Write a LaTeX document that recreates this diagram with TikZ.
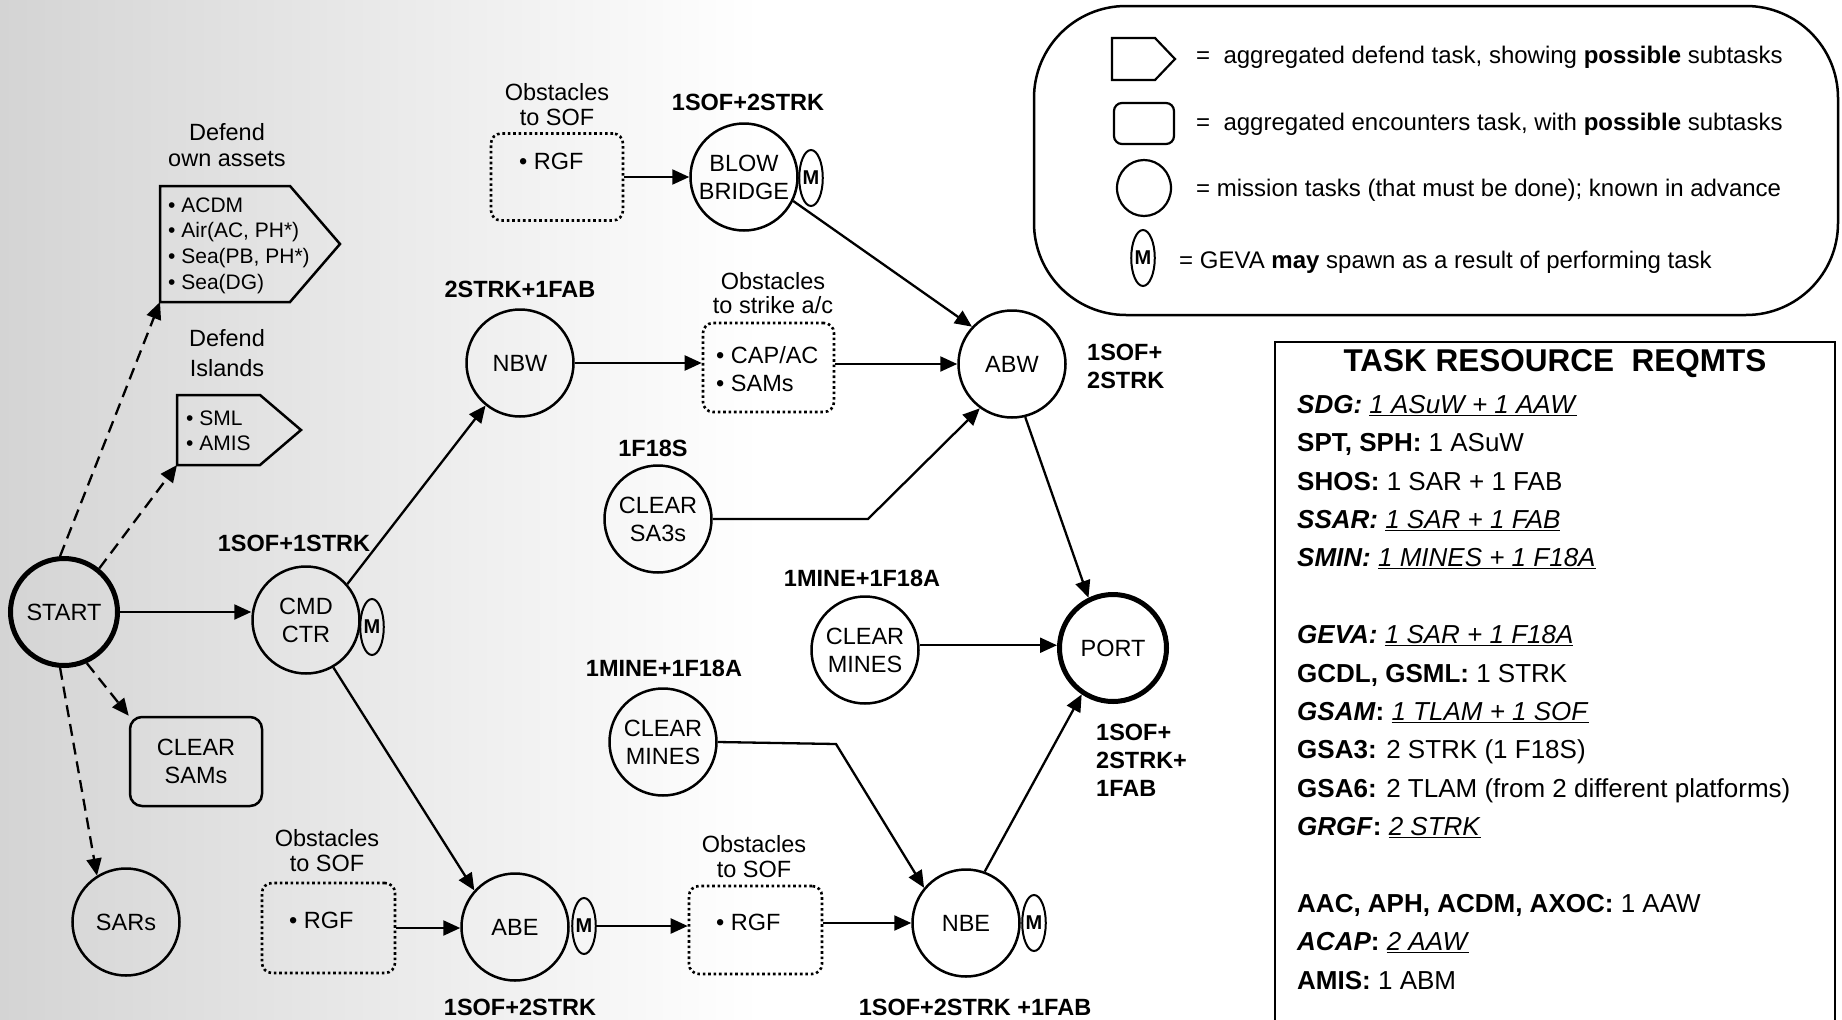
\documentclass[tikz,border=0pt]{standalone}
\usepackage{fontspec}
\setmainfont{Liberation Sans}
\usetikzlibrary{arrows.meta,shapes.geometric}
\definecolor{bggray}{RGB}{212,212,212}
\begin{document}
\begin{tikzpicture}[x=1pt,y=-1pt,
  every node/.style={inner sep=0pt},
  txt/.style={font=\fontsize{23.5}{28}\selectfont, align=center},
  small/.style={font=\fontsize{21}{25.7}\selectfont, align=left},
  res/.style={font=\fontsize{23.5}{28}\selectfont\bfseries, align=center},
  task/.style={circle, draw, line width=2.5pt, minimum size=107pt, txt},
  bigtask/.style={task, line width=5pt},
  mtag/.style={ellipse, draw, line width=2pt, minimum width=22pt, minimum height=56pt, font=\fontsize{20}{20}\selectfont\bfseries},
  obs/.style={draw, rounded corners=10pt, line width=2.6pt, dash pattern=on 2.6pt off 2.8pt},
  conn/.style={line width=2.3pt, -{Triangle[length=17pt,width=15pt]}},
  dconn/.style={conn, dash pattern=on 12pt off 7pt},
  leg/.style={font=\fontsize{24}{28}\selectfont},
  tab/.style={font=\fontsize{26}{38.4}\selectfont, align=left},
]
\path[use as bounding box] (0,0) rectangle (1842,1020);
\clip (0,0) rectangle (1842,1020);
\shade[left color=bggray, right color=white] (0,0) rectangle (760,1020);

% ---------- defend tasks ----------
\node[txt, font=\fontsize{23.5}{26}\selectfont] (hd1) at (227,145) {Defend\\own assets};
\draw[line width=2.5pt] (160,186) -- (290,186) -- (340,244) -- (290,302) -- (160,302) -- cycle;
\node[small, anchor=west] (d1) at (168,245.5) {\textbullet\ ACDM\\\textbullet\ Air(AC, PH*)\\\textbullet\ Sea(PB, PH*)\\\textbullet\ Sea(DG)};
\coordinate (d1c) at (160,302);

\node[txt, font=\fontsize{23.5}{30}\selectfont] (hd2) at (227,353) {Defend\\Islands};
\draw[line width=2.5pt] (177,395) -- (260,395) -- (301,430) -- (260,465) -- (177,465) -- cycle;
\node[small, font=\fontsize{21}{25}\selectfont, anchor=west] (d2) at (186,430.5) {\textbullet\ SML\\\textbullet\ AMIS};
\coordinate (d2c) at (177,465);

% ---------- mission tasks ----------
\node[bigtask] (start) at (64,612) {START};
\node[task] (cmd) at (306,620) {CMD\\CTR};
\node[mtag] (m1) at (372,627) {M};
\node[res] (rcmd) at (294,543) {1SOF+1STRK};
\node[draw, line width=2.5pt, rounded corners=12pt, minimum width=132pt, minimum height=89pt, txt] (sams) at (196,761.5) {CLEAR\\SAMs};
\node[task] (sars) at (126,922) {SARs};

\node[task] (nbw) at (520,363) {NBW};
\node[res] (rnbw) at (520,289) {2STRK+1FAB};
\node[task] (blow) at (744,177) {BLOW\\BRIDGE};
\node[mtag] (m2) at (811,178) {M};
\node[res] (rblow) at (748,102) {1SOF+2STRK};
\node[task] (abw) at (1012,364) {ABW};
\node[res, align=left, anchor=west] (rabw) at (1087,366) {1SOF+\\2STRK};
\node[res] (rsa3) at (653,448) {1F18S};
\node[task] (sa3) at (658,519) {CLEAR\\SA3s};
\node[res] (rcm1) at (862,578) {1MINE+1F18A};
\node[task] (cm1) at (865,650) {CLEAR\\MINES};
\node[bigtask] (port) at (1113,648) {PORT};
\node[res, align=left, anchor=west] (rport) at (1096,760) {1SOF+\\2STRK+\\1FAB};
\node[res] (rcm2) at (664,668) {1MINE+1F18A};
\node[task] (cm2) at (663,742) {CLEAR\\MINES};
\node[task] (abe) at (515,927) {ABE};
\node[mtag] (m3) at (584,926) {M};
\node[res] (rabe) at (520,1007) {1SOF+2STRK};
\node[task] (nbe) at (966,923) {NBE};
\node[mtag] (m4) at (1034,923) {M};
\node[res] (rnbe) at (975,1007) {1SOF+2STRK +1FAB};

% ---------- obstacles ----------
\node[txt, font=\fontsize{23.5}{25}\selectfont] (h1) at (557,105) {Obstacles\\to SOF};
\node[obs, minimum width=132pt, minimum height=87pt] (ob1) at (557,177) {};
\node[txt, anchor=west] (t1) at (519,161) {\textbullet\ RGF};

\node[txt, font=\fontsize{23.5}{24}\selectfont] (h2) at (773,293) {Obstacles\\to strike a/c};
\node[obs, minimum width=131pt, minimum height=89pt] (ob2) at (768.5,367.5) {};
\node[txt, align=left, anchor=west] (t2) at (716,369) {\textbullet\ CAP/AC\\\textbullet\ SAMs};

\node[txt, font=\fontsize{23.5}{25}\selectfont] (h3) at (327,851) {Obstacles\\to SOF};
\node[obs, minimum width=133pt, minimum height=90pt] (ob3) at (328.5,928) {};
\node[txt, anchor=west] (t3) at (289,920) {\textbullet\ RGF};

\node[txt, font=\fontsize{23.5}{25}\selectfont] (h4) at (754,857) {Obstacles\\to SOF};
\node[obs, minimum width=133pt, minimum height=88pt] (ob4) at (755.5,930) {};
\node[txt, anchor=west] (t4) at (716,922) {\textbullet\ RGF};

\coordinate (bendA) at (868,519);
\coordinate (bendB) at (836,744);

% ---------- connectors ----------
\draw[dconn] (start.94) -- (d1c);
\draw[dconn] (start.51) -- (d2c);
\draw[dconn] (start.-66) -- (sams.north west);
\draw[dconn] (start.-94) -- (sars.122);
\draw[conn] (start.east) -- (start.east -| cmd.west);
\draw[conn] (cmd.41) -- (nbw.-129);
\draw[conn] (cmd.-60) -- (abe.138);
\draw[conn] (ob3.east) -- (ob3.east -| abe.west);
\draw[conn] (m3.east) -- (m3.east -| ob4.west);
\draw[conn] (ob4.east |- nbe.west) -- (nbe.west);
\draw[conn] (nbe.70) -- (port.-124);
\draw[conn] (cm1.5) -- (cm1.5 -| port.west);
\draw[conn] (cm2.east) -- (bendB) -- (nbe.140);
\draw[conn] (sa3.east) -- (bendA) -- (abw.-126);
\draw[conn] (ob2.east |- abw.west) -- (abw.west);
\draw[conn] (nbw.east) -- (nbw.east -| ob2.west);
\draw[conn] (ob1.east) -- (ob1.east -| blow.west);
\draw[conn] (blow.-26) -- (abw.137);
\draw[conn] (abw.-76) -- (port.116);

% ---------- legend ----------
\draw[line width=2.5pt, rounded corners=92pt] (1034,6) rectangle (1838,315);
\draw[line width=2.2pt] (1112,38) -- (1155,38) -- (1175,59) -- (1155,80) -- (1112,80) -- cycle;
\draw[line width=2.2pt, rounded corners=8pt] (1114,103) rectangle (1174,144);
\node[ellipse, draw, line width=2.2pt, minimum width=54pt, minimum height=56pt] (lc) at (1144,188) {};
\node[mtag] (lm) at (1143,258) {M};
\node[leg, anchor=base west] (l1) at (1196,63) {=~~aggregated defend task, showing \textbf{possible} subtasks};
\node[leg, anchor=base west] (l2) at (1196,130) {=~~aggregated encounters task, with \textbf{possible} subtasks};
\node[leg, anchor=base west] (l3) at (1196,196) {= mission tasks (that must be done); known in advance};
\node[leg, anchor=base west] (l4) at (1179,268) {= GEVA \textbf{may} spawn as a result of performing task};

% ---------- table ----------
\draw[line width=2.5pt] (1275,1060) -- (1275,342) -- (1835,342) -- (1835,1060);
\node[font=\fontsize{31.5}{36}\selectfont\bfseries] (title) at (1555,364) {TASK RESOURCE\ \ REQMTS};
\node[tab, anchor=base west] (tbl) at (1297,989.3) {%
\textbf{\textit{SDG:}} \underline{\textit{1 ASuW + 1 AAW}}\\
\textbf{SPT, SPH:} 1 ASuW\\
\textbf{SHOS:} 1 SAR + 1 FAB\\
\textbf{\textit{SSAR:}} \underline{\textit{1 SAR + 1 FAB}}\\
\textbf{\textit{SMIN:}} \underline{\textit{1 MINES + 1 F18A}}\\[38.4pt]
\textbf{\textit{GEVA:}} \underline{\textit{1 SAR + 1 F18A}}\\
\textbf{GCDL, GSML:} 1 STRK\\
\textbf{\textit{GSAM}:} \underline{\textit{1 TLAM + 1 SOF}}\\
\textbf{GSA3:} 2 STRK (1 F18S)\\
\textbf{GSA6:} 2 TLAM (from 2 different platforms)\\
\textbf{\textit{GRGF}:} \underline{\textit{2 STRK}}\\[38.4pt]
\textbf{AAC, APH, ACDM, AXOC:} 1 AAW\\
\textbf{\textit{ACAP}:} \underline{\textit{2 AAW}}\\
\textbf{AMIS:} 1 ABM};
\end{tikzpicture}
\end{document}
